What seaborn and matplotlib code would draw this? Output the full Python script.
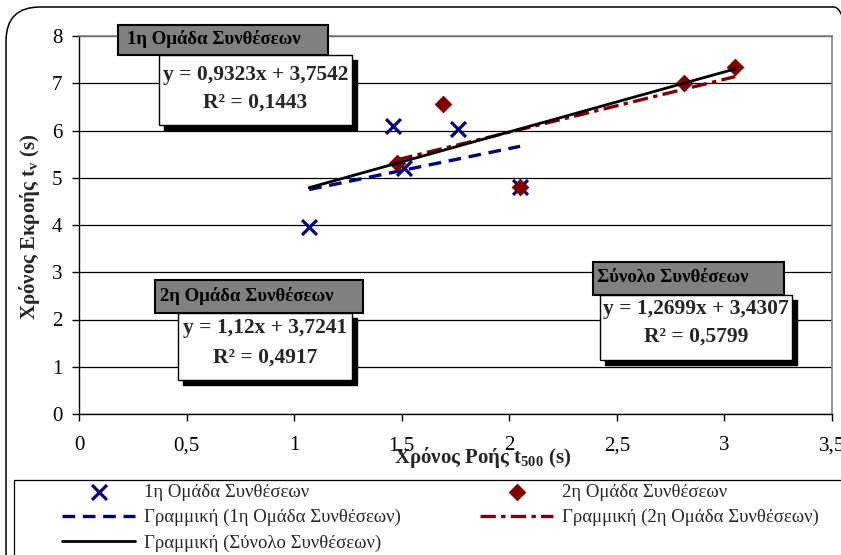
import numpy as np
import pandas as pd
import matplotlib
matplotlib.use("Agg")
import matplotlib.pyplot as plt
import seaborn as sns
from matplotlib.patches import Rectangle, FancyBboxPatch

# ---------------- data ----------------
group1_x = [1.07, 1.46, 1.51, 1.76, 2.05]
group1_y = [3.96, 6.10, 5.21, 6.03, 4.80]
group2_x = [1.48, 1.69, 2.05, 2.81, 3.05]
group2_y = [5.31, 6.56, 4.80, 7.00, 7.34]

series_names = ["1η Ομάδα Συνθέσεων", "2η Ομάδα Συνθέσεων", "Σύνολο Συνθέσεων"]
trend_labels = ["Γραμμική (1η Ομάδα Συνθέσεων)",
                "Γραμμική (2η Ομάδα Συνθέσεων)",
                "Γραμμική (Σύνολο Συνθέσεων)"]
trend_slopes = [0.9323, 1.12, 1.2699]
trend_intercepts = [3.7542, 3.7241, 3.4307]
trend_r2 = [0.1443, 0.4917, 0.5799]

xtick_values = [0, 0.5, 1, 1.5, 2, 2.5, 3, 3.5]
xtick_labels = ["0", "0,5", "1", "1,5", "2", "2,5", "3", "3,5"]
ytick_values = [0, 1, 2, 3, 4, 5, 6, 7, 8]
ytick_labels = ["0", "1", "2", "3", "4", "5", "6", "7", "8"]

x_label = "Χρόνος Ροής $\\mathbf{t_{500}}$ (s)"
y_label = "Χρόνος Εκροής $\\mathbf{t_v}$ (s)"

# ---------------- style ----------------
sns.set_theme(style="white")
plt.rcParams["font.family"] = ["Liberation Serif", "DejaVu Serif"]
plt.rcParams["mathtext.fontset"] = "custom"
plt.rcParams["mathtext.rm"] = "Liberation Serif"
plt.rcParams["mathtext.it"] = "Liberation Serif:italic"
plt.rcParams["mathtext.bf"] = "Liberation Serif:bold"

W, H = 841, 555
fig = plt.figure(figsize=(W / 100, H / 100), dpi=100)
fig.patch.set_facecolor("white")


def fx(px):
    return px / W


def fy(py):
    return 1 - py / H


ax_l, ax_r, ax_t, ax_b = 79, 832, 36, 414
ax = fig.add_axes([fx(ax_l), fy(ax_b), (ax_r - ax_l) / W, (ax_b - ax_t) / H])

navy = "#000080"
darkred = "#800000"

df1 = pd.DataFrame({"x": group1_x, "y": group1_y})
df2 = pd.DataFrame({"x": group2_x, "y": group2_y})
dfall = pd.concat([df1, df2], ignore_index=True)

sns.scatterplot(data=df1, x="x", y="y", marker="x", color=navy, s=115,
                linewidth=2.3, ax=ax, label=series_names[0], zorder=3)
sns.scatterplot(data=df2, x="x", y="y", marker="D", color=darkred,
                edgecolor=darkred, s=70, ax=ax, label=series_names[1], zorder=3)


def trend_df(d, k):
    xs = np.array([d["x"].min(), d["x"].max()])
    return pd.DataFrame({"x": xs, "y": trend_slopes[k] * xs + trend_intercepts[k]})


sns.lineplot(data=trend_df(df1, 0), x="x", y="y", color=navy, linewidth=2.4,
             linestyle=(0, (3.8, 2.3)), ax=ax, label=trend_labels[0], zorder=4)
sns.lineplot(data=trend_df(df2, 1), x="x", y="y", color=darkred, linewidth=2.4,
             linestyle=(0, (4.6, 1.6, 1.3, 1.6)), ax=ax, label=trend_labels[1], zorder=4)
sns.lineplot(data=trend_df(dfall, 2), x="x", y="y", color="black", linewidth=2.0,
             ax=ax, label=trend_labels[2], zorder=5)

ax.set_xlim(0, 3.5)
ax.set_ylim(0, 8)
ax.set_xticks(xtick_values)
ax.set_xticklabels(xtick_labels)
ax.set_yticks(ytick_values)
ax.set_yticklabels(ytick_labels)
ax.tick_params(axis="both", direction="out", length=5, width=1, color="black",
               labelsize=15, bottom=True, left=True, labelcolor="black")
ax.tick_params(axis="x", pad=11)
ax.tick_params(axis="y", pad=7)
ax.yaxis.grid(True, color="black", linewidth=0.9)
ax.xaxis.grid(False)
ax.set_axisbelow(True)
for s in ["left", "bottom"]:
    ax.spines[s].set_color("black")
    ax.spines[s].set_linewidth(1.0)
for s in ["top", "right"]:
    ax.spines[s].set_color("#808080")
    ax.spines[s].set_linewidth(1.2)

ax.set_xlabel(x_label, fontsize=15, fontweight="bold", va="center")
ax.xaxis.set_label_coords((483 - ax_l) / (ax_r - ax_l), (ax_b - 458) / (ax_b - ax_t))
ax.set_ylabel(y_label, fontsize=15, fontweight="bold", va="center")
ax.yaxis.set_label_coords((30 - ax_l) / (ax_r - ax_l), (ax_b - 227) / (ax_b - ax_t))

# ---------------- legend ----------------
handles, labels = ax.get_legend_handles_labels()
if ax.get_legend():
    ax.get_legend().remove()
hmap = dict(zip(labels, handles))
leg_kw = dict(frameon=False, fontsize=13.5, handlelength=3.9, handletextpad=0.5,
              labelspacing=0.42, borderpad=0, borderaxespad=0, loc="upper left")
fig.legend([hmap[series_names[0]], hmap[trend_labels[0]], hmap[trend_labels[2]]],
           [series_names[0], trend_labels[0], trend_labels[2]],
           bbox_to_anchor=(fx(62), fy(484)), **leg_kw)
fig.legend([hmap[series_names[1]], hmap[trend_labels[1]]],
           [series_names[1], trend_labels[1]],
           bbox_to_anchor=(fx(480), fy(484)), **leg_kw)

fig.add_artist(Rectangle((fx(14), fy(600)), (900 - 14) / W, (600 - 480) / H,
                         transform=fig.transFigure, fill=False,
                         edgecolor="black", linewidth=0.9))

# outer rounded chart border (pixel -> inches)
fig.add_artist(FancyBboxPatch((6 / 100, -0.3), (868 - 6) / 100, (H - 7) / 100 + 0.3,
                              boxstyle="round,pad=0,rounding_size=0.34",
                              transform=fig.dpi_scale_trans, fill=False,
                              edgecolor="black", linewidth=1.1))

# ---------------- trendline equation boxes ----------------
boxes = [
    dict(title=(118, 25, 328, 55), eq=(159, 55, 352, 125), tx=(127, 39), ey=(75, 103)),
    dict(title=(155, 280, 363, 313), eq=(178, 313, 352, 380), tx=(160, 296), ey=(328, 358)),
    dict(title=(593, 262, 784, 295), eq=(600, 295, 792, 360), tx=(597, 278), ey=(309, 337)),
]


def rect(x0, y0, x1, y1, **kw):
    fig.add_artist(Rectangle((fx(x0), fy(y1)), (x1 - x0) / W, (y1 - y0) / H,
                             transform=fig.transFigure, **kw))


def fmt(v):
    return str(v).replace(".", ",")


for k, b in enumerate(boxes):
    x0, y0, x1, y1 = b["eq"]
    rect(x0 + 5, y0 + 5, x1 + 5, y1 + 5, facecolor="black", edgecolor="black")
    rect(x0, y0, x1, y1, facecolor="white", edgecolor="black", linewidth=1.0)
    tx0, ty0, tx1, ty1 = b["title"]
    rect(tx0, ty0, tx1, ty1, facecolor="#808080", edgecolor="black", linewidth=1.5)
    fig.text(fx(b["tx"][0]), fy(b["tx"][1]), series_names[k], fontsize=13.5,
             fontweight="bold", color="black", ha="left", va="center")
    cx = (x0 + x1) / 2
    fig.text(fx(cx), fy(b["ey"][0]),
             f"y = {fmt(trend_slopes[k])}x + {fmt(trend_intercepts[k])}",
             fontsize=15.5, fontweight="bold", ha="center", va="center")
    fig.text(fx(cx), fy(b["ey"][1]), f"R² = {fmt(trend_r2[k])}",
             fontsize=15.5, fontweight="bold", ha="center", va="center")

fig.savefig("out.png", dpi=100)
